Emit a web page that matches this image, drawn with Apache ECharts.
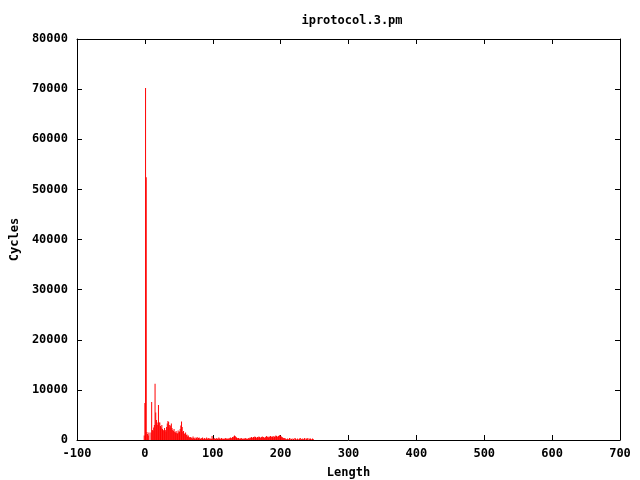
<!DOCTYPE html>
<html>
<head>
<meta charset="utf-8">
<script src="https://cdn.jsdelivr.net/npm/echarts@6/dist/echarts.min.js"></script>
<style>html,body{margin:0;padding:0;background:#fff}#c{width:640px;height:480px}</style>
</head>
<body>
<div id="c"></div>
<script>
const title = 'iprotocol.3.pm';
const xName = 'Length';
const yName = 'Cycles';
const xTicks = [-100, 0, 100, 200, 300, 400, 500, 600, 700];
const yTicks = [0, 10000, 20000, 30000, 40000, 50000, 60000, 70000, 80000];
const firstLength = -1;
const cycles = [
  900, 7400, 70200, 52400, 1600, 1200, 900, 1500, 0, 0,
  1500, 7600, 2000, 1800, 2500, 3000, 11200, 5500, 4000, 3500,
  3000, 7000, 3500, 3500, 2800, 2500, 3000, 2200, 2000, 1800,
  2400, 2000, 1700, 2600, 3300, 3800, 3600, 3000, 2500, 2900,
  3300, 2400, 2000, 1800, 2200, 1600, 1500, 1800, 1400, 1300,
  1900, 1500, 1700, 2200, 2900, 3700, 2600, 1600, 1800, 1300,
  1200, 1500, 1000, 1100, 700, 900, 600, 500,
  600, 400, 500, 300, 700, 400, 300, 500, 200, 400,
  600, 300, 400, 500, 300, 200, 400, 300, 500, 200,
  300, 400, 200, 300, 500, 300, 200, 400, 300, 200,
  300, 200, 800, 300, 200, 400, 300, 200, 300, 400,
  200, 300, 500, 300, 200, 300, 400, 200, 300, 200,
  300, 200, 400, 300, 200, 300, 200, 400, 300, 500,
  300, 400, 600, 500, 700, 900, 800, 600, 500, 400,
  300, 400, 300, 200, 300, 400, 300, 200, 300, 200,
  300, 400, 200, 300, 200, 300, 400, 300, 500, 400,
  600, 500, 400, 600, 500, 700, 600, 500, 400, 600,
  500, 700, 600, 500, 400, 600, 700, 500, 600, 400,
  500, 600, 800, 700, 600, 500, 700, 600, 800, 700,
  600, 700, 500, 800, 600, 700, 900, 800, 700, 600,
  800, 900, 1000, 800, 700, 600, 500, 400, 300, 400,
  300, 0, 200, 300, 0, 200, 400, 0, 300, 200,
  0, 300, 200, 0, 400, 300, 0, 200, 300, 0,
  200, 300, 400, 0, 200, 300, 0, 200, 400, 300,
  0, 300, 200, 400, 0, 300, 200, 300, 0, 200,
  300, 200
];
const lengths = cycles.map((_, i) => firstLength + i);
const data = lengths.map((x, i) => [x, cycles[i]]).filter(d => d[1] > 0);

const font = {fontFamily: 'DejaVu Sans Mono', fontWeight: 'bold', fontSize: 12, color: '#000'};
const xMin = xTicks[0], xMax = xTicks[xTicks.length - 1];
const yMin = yTicks[0], yMax = yTicks[yTicks.length - 1];
const xInt = xTicks[1] - xTicks[0], yInt = yTicks[1] - yTicks[0];
const line = {show: true, onZero: false, lineStyle: {color: '#000', width: 1}};
const tick = {show: true, inside: true, length: 5, lineStyle: {color: '#000', width: 1}};

const chart = echarts.init(document.getElementById('c'), null, {renderer: 'canvas'});
chart.setOption({
  animation: false,
  backgroundColor: '#fff',
  title: {text: title, left: 347, top: 10, textAlign: 'center',
    textStyle: Object.assign({}, font)},
  grid: {left: 77, right: 20, top: 39, bottom: 40, containLabel: false, outerBoundsMode: 'none'},
  xAxis: [
    {type: 'value', min: xMin, max: xMax, interval: xInt, position: 'bottom',
     axisLine: line, axisTick: tick, splitLine: {show: false},
     axisLabel: Object.assign({margin: 8, formatter: v => String(v)}, font),
     name: xName, nameLocation: 'middle', nameGap: 27, nameTextStyle: Object.assign({}, font)},
    {type: 'value', min: xMin, max: xMax, interval: xInt, position: 'top',
     axisLine: line, axisTick: tick, splitLine: {show: false}, axisLabel: {show: false}}
  ],
  yAxis: [
    {type: 'value', min: yMin, max: yMax, interval: yInt, position: 'left',
     axisLine: line, axisTick: tick, splitLine: {show: false},
     axisLabel: Object.assign({margin: 9, formatter: v => String(v)}, font),
     name: yName, nameLocation: 'middle', nameGap: 56, nameRotate: 90, nameTextStyle: Object.assign({}, font)},
    {type: 'value', min: yMin, max: yMax, interval: yInt, position: 'right',
     axisLine: line, axisTick: tick, splitLine: {show: false}, axisLabel: {show: false}}
  ],
  series: [{
    type: 'bar', xAxisIndex: 0, yAxisIndex: 0, data: data,
    barWidth: 1, itemStyle: {color: '#ff0000'}, z: 1
  }]
});
</script>
</body>
</html>
